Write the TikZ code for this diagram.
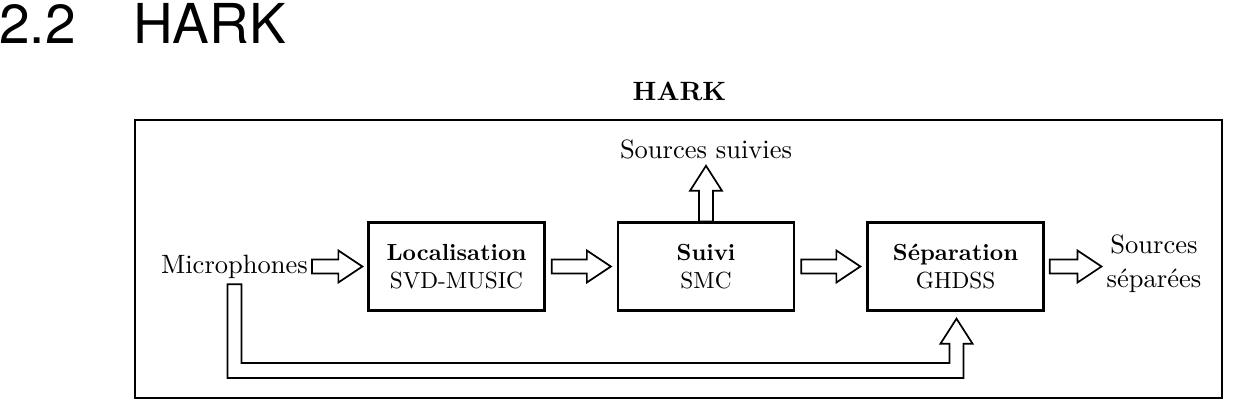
\documentclass[tikz,border=0pt]{standalone}
\usepackage{fontspec}
\setmainfont{lmroman10-regular.otf}[BoldFont=lmroman10-bold.otf]
\newfontfamily\titlefont{TeX Gyre Heros}
\usetikzlibrary{calc}
\tikzset{
  fatarrow/.style={draw, fill=white, line width=1.7pt, line join=miter},
  blk/.style={draw, line width=2.3pt, minimum width=176pt, minimum height=88pt,
    align=center, inner sep=0pt, font=\fontsize{23.3}{28.3}\selectfont},
  lbl/.style={inner sep=0pt, font=\fontsize{26.5}{34}\selectfont},
}
% horizontal fat arrow: #1 start, #2 tip
\newcommand\hfat[2]{\path[fatarrow] let \p1=(#1), \p2=(#2) in
  (\x1,\y1+7pt) -- (\x2-24pt,\y1+7pt) -- (\x2-24pt,\y1+16pt) -- (\x2,\y1)
  -- (\x2-24pt,\y1-16pt) -- (\x2-24pt,\y1-7pt) -- (\x1,\y1-7pt) -- cycle;}
% vertical (upward) fat arrow: #1 start, #2 tip
\newcommand\vfat[2]{\path[fatarrow] let \p1=(#1), \p2=(#2) in
  (\x1-7pt,\y1) -- (\x1-7pt,\y2-25pt) -- (\x1-16pt,\y2-25pt) -- (\x1,\y2)
  -- (\x1+16pt,\y2-25pt) -- (\x1+7pt,\y2-25pt) -- (\x1+7pt,\y1) -- cycle;}
\begin{document}
\begin{tikzpicture}[x=1pt,y=-1pt]
\useasboundingbox (0,0) rectangle (1236,410);
% section title
\node[anchor=base west, inner sep=0pt, font=\titlefont\fontsize{55}{60}\selectfont] (secnum) at (-1,43) {2.2};
\node[anchor=base west, inner sep=0pt, font=\titlefont\fontsize{55}{60}\selectfont] (sectitle) at (133,43) {HARK};
% frame
\node[draw, line width=2.3pt, minimum width=1087pt, minimum height=278pt, inner sep=0pt] (frame) at (678.5,259) {};
\node[lbl, anchor=base] (harktitle) at (679.5,100) {\bfseries HARK};
% blocks
\node[blk] (loc) at (456.5,266.5) {\textbf{Localisation}\\SVD-MUSIC};
\node[blk] (suivi) at (706,266.5) {\textbf{Suivi}\\SMC};
\node[blk] (sep) at (955.5,266.5) {\textbf{Séparation}\\GHDSS};
% labels
\node[lbl, anchor=base east] (mic) at (308,273) {Microphones};
\node[lbl, anchor=base] (ss) at (706,158) {Sources suivies};
\node[lbl, align=center] (sout) at (1154,263.4) {Sources\\séparées};
\coordinate (micout) at ($(mic.east |- loc.west)+(4,0)$);
\coordinate (bend) at (233,370.5);
% arrows
\hfat{micout}{$(loc.west)+(-5,0)$}
\hfat{$(loc.east)+(6,0)$}{$(suivi.west)+(-6,0)$}
\hfat{$(suivi.east)+(6,0)$}{$(sep.west)+(-6,0)$}
\hfat{$(sep.east)+(5,0)$}{$(sout.west)+(-5,0)$}
\vfat{suivi.north}{$(ss.south)+(0,7)$}
\path[fatarrow] let \p1=($(mic.south)+(0,6)$), \p2=($(sep.south)+(1,7)$), \p3=(bend) in
  (\x1-7pt,\y1) -- (\x1-7pt,\y3-7.5pt) -- (\x2+7pt,\y3-7.5pt) -- (\x2+7pt,\y2-25pt)
  -- (\x2+16pt,\y2-25pt) -- (\x2,\y2) -- (\x2-16pt,\y2-25pt) -- (\x2-7pt,\y2-25pt)
  -- (\x2-7pt,\y3+7.5pt) -- (\x1+7pt,\y3+7.5pt) -- (\x1+7pt,\y1) -- cycle;
\end{tikzpicture}
\end{document}
